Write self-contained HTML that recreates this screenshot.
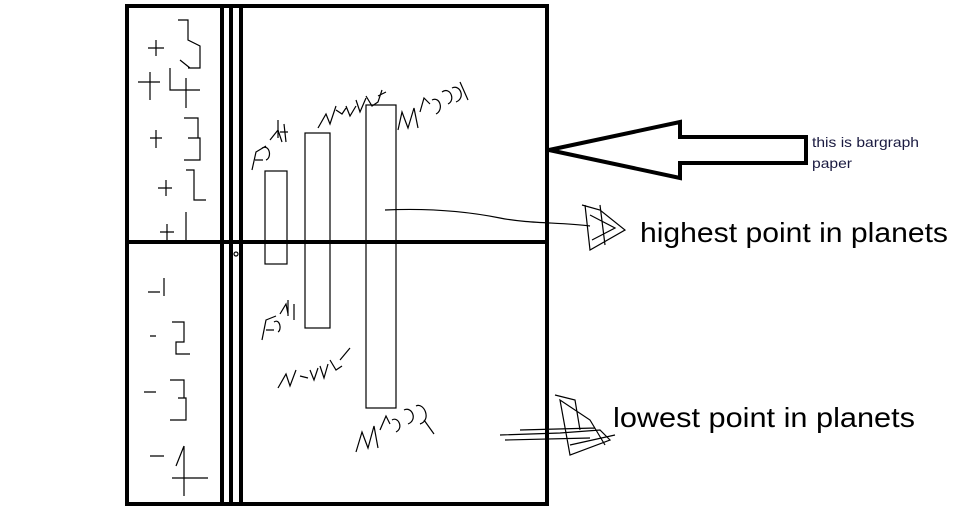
<!DOCTYPE html>
<html><head><meta charset="utf-8"><style>
html,body{margin:0;padding:0;background:#fff;width:961px;height:517px;overflow:hidden}
svg{display:block}
</style></head><body>
<svg width="961" height="517" viewBox="0 0 961 517" xmlns="http://www.w3.org/2000/svg" font-family="Liberation Sans, sans-serif">
<g fill="none" stroke="#000" stroke-width="4">
<rect x="127" y="6" width="420" height="498"/>
<line x1="222" y1="6" x2="222" y2="504"/>
<line x1="231" y1="6" x2="231" y2="504"/>
<line x1="241" y1="6" x2="241" y2="504"/>
<line x1="129" y1="242" x2="547" y2="242"/>
<polygon points="549,150 680,122 680,137 806,137 806,163 680,163 680,178"/>
</g>
<g fill="none" stroke="#000" stroke-width="1.2">
<rect x="265" y="171" width="22" height="93"/>
<rect x="305" y="133" width="25" height="195"/>
<rect x="366" y="105" width="30" height="303"/>
<path d="M385,210 C430,208 470,212 500,218 C530,224 560,222 590,226"/>
<path d="M582,205 L600,210 L625,230 L590,250 L585,205 M590,215 L615,228 L592,240 M600,205 L605,245"/>
<path d="M500,435 L560,433 L600,430 L610,440 L570,455 L560,400 L590,420 L605,445 M505,440 L590,438 M520,430 L595,428 M555,395 L575,400 L580,430 M570,445 L615,435"/>
<circle cx="236" cy="254" r="2"/>
<path d="M148,48 h16 M156,40 v16 M178,20 h10 v20 l12,6 v22 h-12 M190,68 l-10,-8"/>
<path d="M138,82 h22 M150,72 v28 M170,68 v22 h30 M186,78 v30"/>
<path d="M150,138 h12 M156,130 v18 M184,118 h14 v20 h-10 h12 v22 h-16"/>
<path d="M158,188 h14 M166,180 v16 M186,170 h8 v30 h12"/>
<path d="M160,232 h14 M167,224 v16 M186,212 v30"/>
<path d="M148,292 h12 M164,278 v18"/>
<path d="M150,336 h6 M172,322 h12 v20 h-8 v12 h14"/>
<path d="M144,392 h12 M170,380 h14 v18 h-6 h8 v22 h-16"/>
<path d="M150,456 h14 M184,446 v50 M172,478 h36 M184,446 l-8,20"/>
<path d="M252,170 l4,-18 l10,-6 M255,160 h8 M262,148 c8,-4 10,10 4,12 M270,140 l8,-10 l4,12 M278,120 v18 M284,124 l2,18 M280,132 h8"/>
<path d="M318,128 l8,-14 l4,10 l6,-18 M336,110 l6,4 l4,-6 M346,106 l4,10 l6,-10 M356,100 l4,12 l6,-14 M366,96 l6,10 l6,-4 l4,-12 M378,96 l8,-4"/>
<path d="M398,130 l4,-18 l6,16 l6,-20 l4,20 M420,112 l4,-14 l6,6 M432,100 c8,-4 12,10 4,14 M442,92 c8,-6 14,8 6,12 M452,88 c8,-4 14,10 4,14 M460,82 l8,18"/>
<path d="M262,340 l4,-20 l10,-4 M266,330 h8 M274,322 c6,-4 8,8 4,10 M280,314 l6,-10 l2,10 M288,300 v16 M294,304 v16"/>
<path d="M278,388 l8,-14 l4,12 l6,-16 M300,376 l8,2 M310,370 l4,10 l4,-12 M320,366 l4,12 l4,-14 M330,360 l6,10 l6,-4 M340,360 l10,-12"/>
<path d="M356,452 l6,-20 l6,16 l6,-22 l4,22 M380,430 l6,-14 l4,8 M392,420 c6,-4 12,8 4,12 M404,410 c8,-4 14,10 4,14 M416,406 c8,-4 16,14 4,18 M424,420 l10,14"/>
</g>
<text x="812" y="147" font-size="14" fill="#1a1a40" textLength="107" lengthAdjust="spacingAndGlyphs">this is bargraph</text>
<text x="812" y="168" font-size="14" fill="#1a1a40" textLength="40" lengthAdjust="spacingAndGlyphs">paper</text>
<text x="640" y="242" font-size="28" fill="#000" textLength="308" lengthAdjust="spacingAndGlyphs">highest point in planets</text>
<text x="613" y="427" font-size="28" fill="#000" textLength="302" lengthAdjust="spacingAndGlyphs">lowest point in planets</text>
</svg>
</body></html>
